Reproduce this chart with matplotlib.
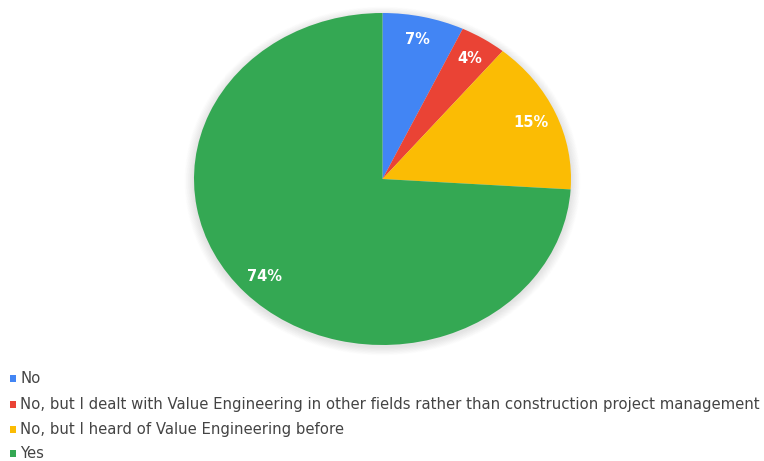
import matplotlib
matplotlib.use("Agg")
import matplotlib.pyplot as plt
from matplotlib.patches import Rectangle, Ellipse

categories = [
    "No",
    "No, but I dealt with Value Engineering in other fields rather than construction project management",
    "No, but I heard of Value Engineering before",
    "Yes",
]
shares = [7, 4, 15, 74]
colors = ["#4285F4", "#EA4335", "#FBBC04", "#34A853"]

W, H = 764, 461
fig = plt.figure(figsize=(W / 100, H / 100), dpi=100)
fig.patch.set_facecolor("white")

# pie area (pixel box) -> figure fraction
px_left, px_right, px_top, px_bottom = 194, 571, 13, 345
ax = fig.add_axes([px_left / W, 1 - px_bottom / H,
                   (px_right - px_left) / W, (px_bottom - px_top) / H])

# soft drop shadow under the pie
n = 14
for i in range(n):
    s = 2.0 + 0.10 * (i + 1) / n
    ax.add_patch(Ellipse((0.0, -0.012), s, s, facecolor="#888888",
                         edgecolor="none", alpha=0.012, zorder=0, clip_on=False))

wedges, texts, autotexts = ax.pie(
    shares, colors=colors, startangle=90, counterclock=False,
    autopct=lambda p: f"{p:.0f}%", pctdistance=0.86,
    wedgeprops=dict(linewidth=0, edgecolor="none"),
    textprops=dict(color="white", fontsize=10.5, fontweight="bold",
                   family="DejaVu Sans"),
)
for w in wedges:
    w.set_zorder(2)
for t in autotexts:
    t.set_zorder(3)
ax.set_aspect("auto")
ax.set_xlim(-1, 1)
ax.set_ylim(-1, 1)
ax.axis("off")

# legend rows
rows_y = [378, 404, 429, 453]
for label, col, y in zip(categories, colors, rows_y):
    fig.patches.append(Rectangle((10 / W, 1 - (y + 3.5) / H), 6 / W, 7 / H,
                                 transform=fig.transFigure, facecolor=col,
                                 edgecolor="none"))
    fig.text(20 / W, 1 - y / H, label, fontsize=10.75, color="#444444",
             family="DejaVu Sans", va="center", ha="left")

fig.savefig("out.png", dpi=100, facecolor="white")
